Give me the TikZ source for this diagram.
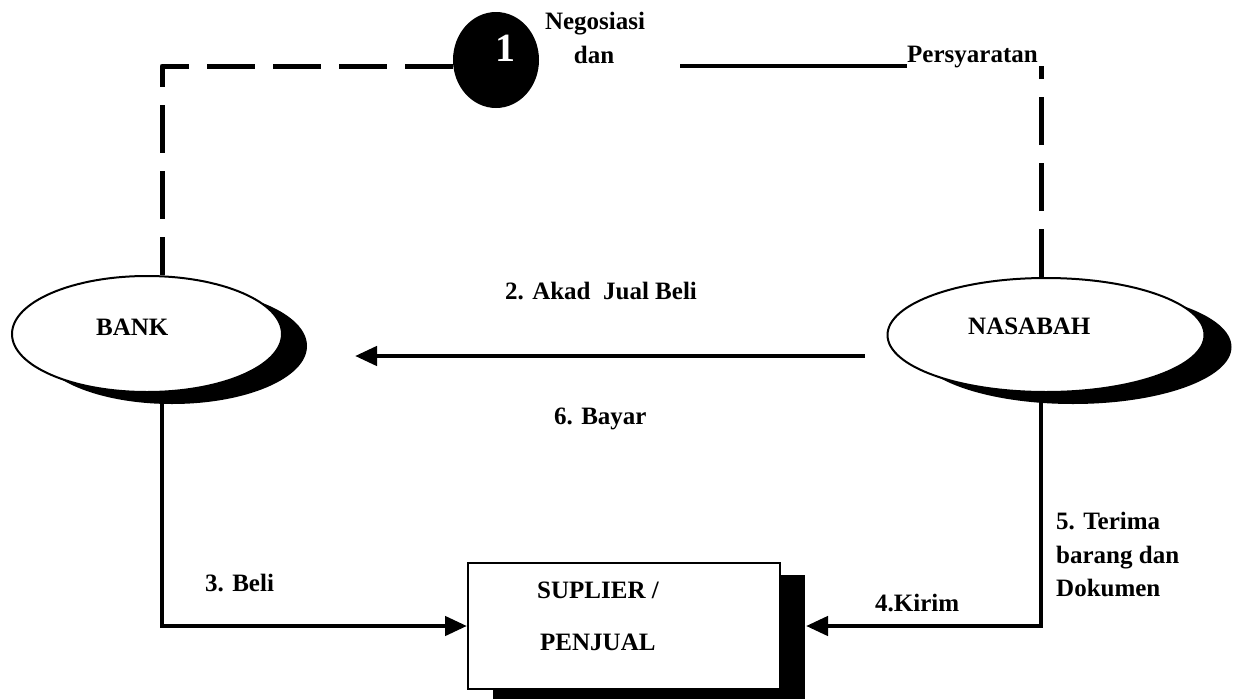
\documentclass[tikz,border=0pt]{standalone}
\usepackage{fontspec}
\setmainfont{Liberation Serif}
\usetikzlibrary{shapes.geometric,arrows.meta,shadows,backgrounds}
\begin{document}
\begin{tikzpicture}[x=1pt,y=-1pt,
  lbl/.style={anchor=base west, inner sep=0pt, font=\fontsize{25}{30}\selectfont\bfseries},
  thk/.style={line width=4.5pt},
  arr/.style={thk, -{Triangle[length=22pt,width=19pt]}},
  dsh/.style={line width=5pt, dash pattern=on 48pt off 18pt, line join=round},
  shad/.style={drop shadow={shadow xshift=#1, shadow yshift=-12pt, fill=black, opacity=1}},
  oval/.style={ellipse, draw, line width=2pt, fill=white, inner sep=0pt}
]
\useasboundingbox (0,0) rectangle (1235,699);

% main shapes
\node[oval, shad=25pt, minimum width=270pt, minimum height=116pt] (bank) at (147,334) {};
\node[oval, shad=27pt, minimum width=317pt, minimum height=114pt] (nas) at (1046,335) {};
\node[rectangle, draw, line width=2pt, fill=white, inner sep=0pt, shad=25pt,
      minimum width=312pt, minimum height=126pt] (box) at (624,626) {};
\node[ellipse, fill=black, inner sep=0pt, minimum width=86pt, minimum height=96pt] (circ) at (496,60) {};

% texts
\node[anchor=base, inner sep=0pt, text=white, font=\fontsize{40}{44}\selectfont\bfseries] (one) at (505,61) {1};
\node[lbl, anchor=base] (tneg) at (595,29) {Negosiasi};
\node[lbl, anchor=base] (tdan) at (594,63) {dan};
\node[lbl] (tpers) at (907,62) {Persyaratan};
\node[lbl] (tbank) at (96,335) {BANK};
\node[lbl] (tnas) at (968,334) {NASABAH};
\node[lbl] (takad) at (505,299) {2. Akad\ \ Jual Beli};
\node[lbl] (tbayar) at (554,424) {6. Bayar};
\node[lbl] (tbeli) at (205,591) {3. Beli};
\node[lbl] (tsup) at (537,598) {SUPLIER /};
\node[lbl] (tpen) at (540,650) {PENJUAL};
\node[lbl] (tkirim) at (875,611) {4.Kirim};
\node[lbl] (tter1) at (1056,529) {5. Terima};
\node[lbl] (tter2) at (1056,563) {barang dan};
\node[lbl] (tter3) at (1056,596) {Dokumen};

% connectors
\coordinate (cornerL) at (162,66);
\coordinate (cornerR) at (1041,66);
\coordinate (rA) at (680,66);
\coordinate (rB) at (907,66);
\coordinate (akadS) at (865,356);
\coordinate (akadE) at (355,356);

\begin{pgfonlayer}{background}
\draw[dsh] ([yshift=-6pt]circ.west) -- (cornerL) -- (cornerL |- bank.north);
\draw[thk] (rA) -- (rB);
\draw[dsh] (cornerR |- nas.north) -- (cornerR);
\draw[arr] (akadS) -- (akadE);
\draw[arr] (cornerL |- bank.south) |- (box.west);
\draw[arr] (cornerR |- nas.south) |- ([xshift=25pt]box.east);
\end{pgfonlayer}
\end{tikzpicture}
\end{document}
